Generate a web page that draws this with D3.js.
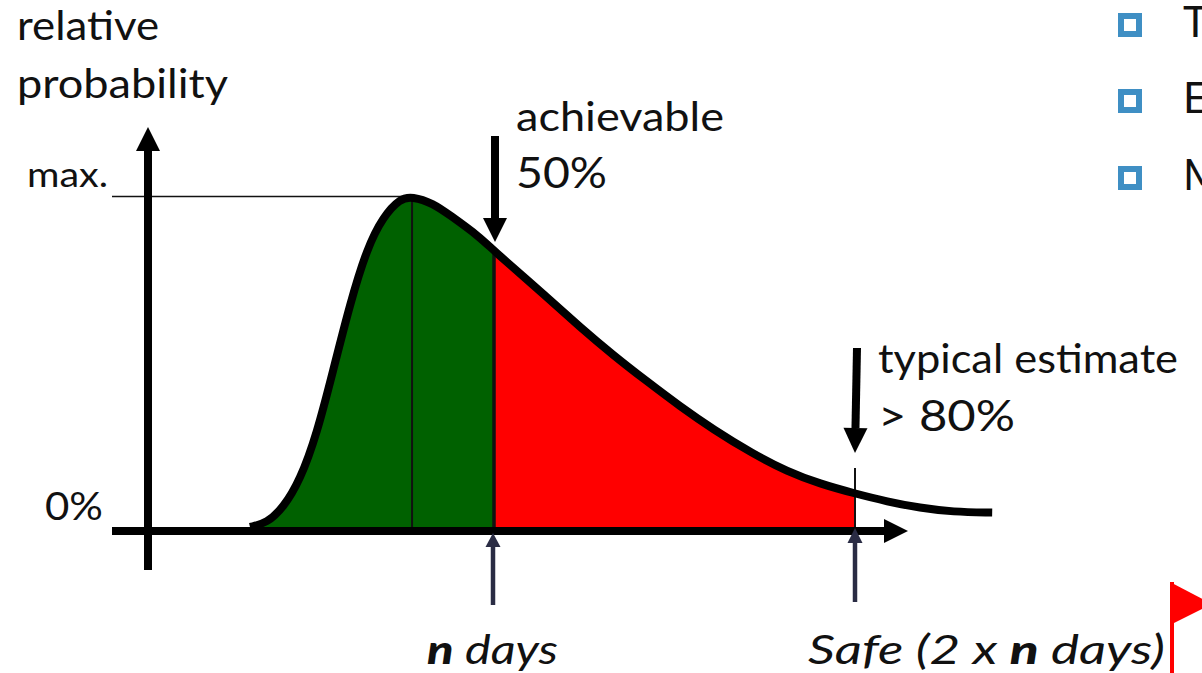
<!DOCTYPE html>
<html><head><meta charset="utf-8">
<script src="https://cdnjs.cloudflare.com/ajax/libs/d3/7.8.5/d3.min.js"></script>
<style>html,body{margin:0;padding:0;background:#fff;overflow:hidden}svg{display:block}text{font-family:Lato,"Open Sans",sans-serif;fill:#111}</style>
</head><body><svg id="c" width="1202" height="673"></svg>
<script>
// Curve (x in days where n = 10, y as share of max.)
const days = [3.24,3.71,4.16,4.63,5.10,5.54,6.01,6.48,6.93,7.40,7.73,8.31,8.78,9.61,9.97,11.47,12.38,13.30,14.24,15.15,16.07,17.17,18.12,19.03,20,20.89,21.8,22.71,23.8];
const relProb = [0.012,0.024,0.069,0.152,0.293,0.478,0.679,0.845,0.94,0.994,1.0,0.98,0.944,0.879,0.84,0.699,0.61,0.526,0.447,0.373,0.304,0.231,0.178,0.141,0.112,0.088,0.069,0.057,0.055];
const nDays = 10, safeDays = 20, modeDay = 7.73;
const bullets = ["T","E","M"];

const svg = d3.select("#c");
const H = 673;
const x = d3.scaleLinear().domain([10,20]).range([494,855]);
const y = d3.scaleLinear().domain([0,1]).range([531,196.5]);
const pts = days.map((d,i)=>[d,relProb[i]]);
const curve = d3.curveBasis;
const area = d3.area().x(d=>x(d[0])).y0(y(0)).y1(d=>y(d[1])).curve(curve);
const line = d3.line().x(d=>x(d[0])).y(d=>y(d[1])).curve(curve);

const defs = svg.append("defs");
const clip = (id,a,b)=>defs.append("clipPath").attr("id",id).append("rect")
  .attr("x",x(a)).attr("y",0).attr("width",x(b)-x(a)).attr("height",H);
clip("cGreen",days[0],nDays); clip("cRed",nDays,safeDays);

svg.append("path").datum(pts).attr("d",area).attr("fill","#006100").attr("clip-path","url(#cGreen)");
svg.append("path").datum(pts).attr("d",area).attr("fill","#ff0000").attr("clip-path","url(#cRed)");

// thin guides
const guide=(x1,y1,x2,y2,w)=>svg.append("line").attr("x1",x1).attr("y1",y1).attr("x2",x2).attr("y2",y2).attr("stroke","#111").attr("stroke-width",w);
guide(112,y(1),x(modeDay),y(1),1.5);
guide(x(modeDay),y(1),x(modeDay),y(0),2);
guide(x(nDays),y(0.84),x(nDays),y(0),3.5);
guide(x(safeDays),468,x(safeDays),y(0),2);

// arrow: straight shaft + triangular head; (x1,y1) tail, (x2,y2) tip
function arrow(x1,y1,x2,y2,w,hw,hl,col){
  const a=Math.atan2(y2-y1,x2-x1),c=Math.cos(a),s=Math.sin(a);
  const bx=x2-c*hl,by=y2-s*hl;
  svg.append("line").attr("x1",x1).attr("y1",y1).attr("x2",bx).attr("y2",by).attr("stroke",col).attr("stroke-width",w);
  svg.append("polygon").attr("fill",col).attr("points",[[x2,y2],[bx-s*hw/2,by+c*hw/2],[bx+s*hw/2,by-c*hw/2]].join(" "));
}
// axes
arrow(148,570,148,127,8,24,24,"#000");
arrow(112,531,908,531,8,24,24,"#000");
// the curve
svg.append("path").datum(pts).attr("d",line).attr("fill","none").attr("stroke","#000").attr("stroke-width",8);
// callouts
arrow(495,136,495,242,8,24,24,"#000");
arrow(857,348,855,453,8,24,25,"#000");
arrow(x(nDays)-1,605,x(nDays)-1,533,4.5,15,14,"#2a2c44");
arrow(x(safeDays),602,x(safeDays),528,4.5,15,15,"#2a2c44");

function label(t,lx,ly,len,size,parts){
  const el=svg.append("text").attr("x",lx).attr("y",ly).attr("font-size",size)
    .attr("textLength",len).attr("lengthAdjust","spacingAndGlyphs");
  if(parts){parts.forEach(p=>el.append("tspan").attr("font-weight",p[1]?"900":"400").attr("font-style","italic").text(p[0]));}
  else el.text(t);
  return el;
}
label("relative",17,40,142,40);
label("probability",17,98,211,40);
label("max.",27,187,81,34);
label("0%",45,520,58,38);
label("achievable",516,131,208,40);
label("50%",516,188,91,42);
label("typical estimate",878,373,300,40);
label("> 80%",878,431,137,42);
label("",427,664,131,40,[["n",1],[" days",0]]);
label("",808,664,357,40,[["Safe (2 x ",0],["n",1],[" days)",0]]);

// bullet list on the right, cropped by the picture edge as in the original
const boxTop=[13,89,166], textBase=[37,113,190];
bullets.forEach((b,i)=>{
  svg.append("rect").attr("x",1121).attr("y",boxTop[i]+3).attr("width",18).attr("height",18)
    .attr("fill","#fff").attr("stroke","#3f8fc4").attr("stroke-width",6);
  svg.append("text").attr("x",1183).attr("y",textBase[i]).attr("font-size",42).text(b);
});

// flag
svg.append("rect").attr("x",1170).attr("y",582).attr("width",4).attr("height",91).attr("fill","#ff0000");
svg.append("polygon").attr("points","1170,582 1212,604 1170,625").attr("fill","#ff0000");
</script></body></html>
